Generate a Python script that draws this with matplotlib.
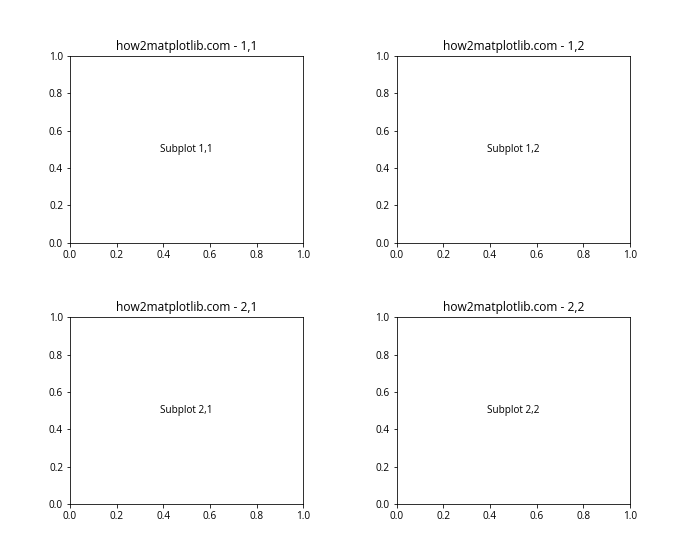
import matplotlib
matplotlib.use("Agg")
import matplotlib.pyplot as plt

#-----Data-----#
rows = [1, 2]
cols = [1, 2]
title_prefix = "how2matplotlib.com"
label_prefix = "Subplot"
#--/--Data--/--#

plt.rcParams['font.family'] = ['Open Sans', 'DejaVu Sans']

#700x560 px at 72 dpi
fig, axs = plt.subplots(len(rows), len(cols), figsize=(700 / 72, 560 / 72), dpi=72)

for i, r in enumerate(rows):
    for j, c in enumerate(cols):
        ax = axs[i, j]
        ax.set_title(f"{title_prefix} - {r},{c}")
        ax.text(0.5, 0.5, f"{label_prefix} {r},{c}", ha="center", va="center")

plt.subplots_adjust(left=0.1, right=0.9, bottom=0.1, top=0.9, wspace=0.4, hspace=0.4)
plt.savefig("out.png")
